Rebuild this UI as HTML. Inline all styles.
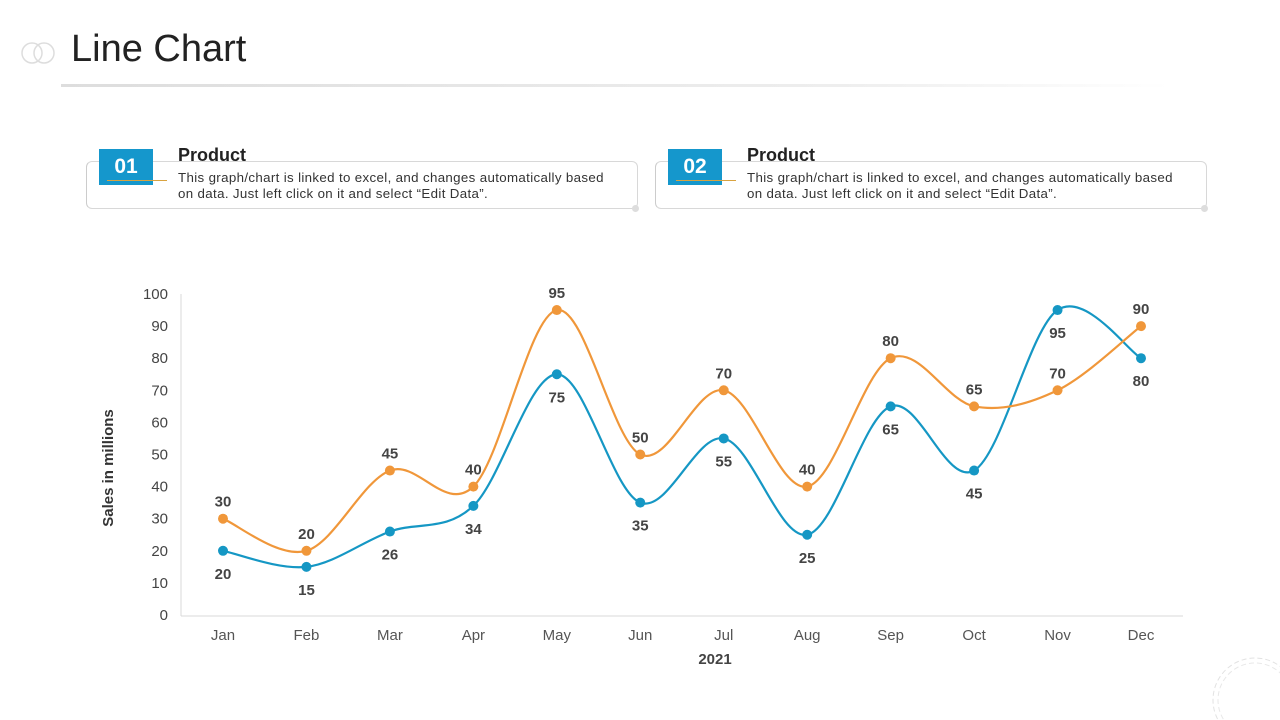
<!DOCTYPE html>
<html><head><meta charset="utf-8"><style>
body{margin:0;width:1280px;height:720px;background:#fff;font-family:"Liberation Sans",sans-serif;overflow:hidden;position:relative}
.abs{position:absolute}
.title{left:71px;top:28px;font-size:38px;color:#222;font-family:"Liberation Sans",sans-serif}
.card{border:1px solid #d8d8d8;border-left:1px solid #ccc;border-radius:6px;height:46px}
.num{background:#1597cc;color:#fff;font-weight:bold;font-size:21px;width:54px;height:36px;line-height:36px;text-align:center}
.ph{font-weight:bold;font-size:18px;color:#222;font-family:"Liberation Sans",sans-serif}
.pt{font-size:13.3px;color:#333;line-height:16px;letter-spacing:0.35px}
</style></head><body>
<svg class="abs" style="left:20px;top:40px" width="40" height="26"><circle cx="12" cy="13" r="10" fill="none" stroke="#ddd" stroke-width="1.5"/><circle cx="24" cy="13" r="10" fill="none" stroke="#ddd" stroke-width="1.5"/></svg>
<div class="abs title">Line Chart</div>
<div class="abs" style="left:61px;top:84px;width:1110px;height:3px;background:linear-gradient(90deg,#ddd,#eee 70%,#fff)"></div>

<div class="abs card" style="left:86px;top:161px;width:550px"></div>
<div class="abs num" style="left:99px;top:149px">01</div>
<div class="abs" style="left:107px;top:180px;width:60px;height:1px;background:#d9a340"></div>
<div class="abs ph" style="left:178px;top:145px">Product</div>
<div class="abs pt" style="left:178px;top:170px">This graph/chart is linked to excel, and changes automatically based<br>on data. Just left click on it and select “Edit Data”.</div>
<div class="abs" style="left:632px;top:205px;width:7px;height:7px;border-radius:50%;background:#ddd"></div>

<div class="abs card" style="left:655px;top:161px;width:550px"></div>
<div class="abs num" style="left:668px;top:149px">02</div>
<div class="abs" style="left:676px;top:180px;width:60px;height:1px;background:#d9a340"></div>
<div class="abs ph" style="left:747px;top:145px">Product</div>
<div class="abs pt" style="left:747px;top:170px">This graph/chart is linked to excel, and changes automatically based<br>on data. Just left click on it and select “Edit Data”.</div>
<div class="abs" style="left:1201px;top:205px;width:7px;height:7px;border-radius:50%;background:#ddd"></div>

<svg class="abs" style="left:1210px;top:655px" width="70" height="65"><circle cx="45" cy="45" r="42" fill="none" stroke="#e2e2e2" stroke-dasharray="5 3"/><circle cx="45" cy="45" r="37" fill="none" stroke="#e8e8e8" stroke-dasharray="5 3"/></svg>

<svg id="chart" class="abs" style="left:0;top:0" width="1280" height="720"></svg>
<script>
const categories=["Jan","Feb","Mar","Apr","May","Jun","Jul","Aug","Sep","Oct","Nov","Dec"];
const series1=[30,20,45,40,95,50,70,40,80,65,70,90];
const series2=[20,15,26,34,75,35,55,25,65,45,95,80];
const yTicks=[0,10,20,30,40,50,60,70,80,90,100];
const svg=document.getElementById('chart');
const NS='http://www.w3.org/2000/svg';
const x=i=>223+i*(1141-223)/(categories.length-1);
const y=v=>615-v*3.21;
function mk(t,a,p){const e=document.createElementNS(NS,t);for(const k in a)e.setAttribute(k,a[k]);(p||svg).appendChild(e);return e;}
let e=mk('line',{x1:181,y1:294,x2:181,y2:616,stroke:'#d9d9d9'});

e=mk('line',{x1:181,y1:616,x2:1183,y2:616,stroke:'#d9d9d9'});

yTicks.forEach(v=>{const t=mk('text',{x:168,y:y(v)+5,'text-anchor':'end','font-size':15,fill:'#444'});t.textContent=v;
});
categories.forEach((c,i)=>{const t=mk('text',{x:x(i),y:640,'text-anchor':'middle','font-size':15,fill:'#555'});t.textContent=c;
});
e=mk('text',{x:715,y:664,'text-anchor':'middle','font-size':15,'font-weight':'bold',fill:'#444'});e.textContent='2021';

e=mk('text',{x:0,y:0,'text-anchor':'middle','font-size':15,'font-weight':'bold',fill:'#333',transform:'translate(113,468) rotate(-90)'});e.textContent='Sales in millions';

function path(vals){const p=vals.map((v,i)=>[x(i),y(v)]);let d='M'+p[0];const k=1/6;
for(let i=0;i<p.length-1;i++){const p0=p[i-1]||p[i],p1=p[i],p2=p[i+1],p3=p[i+2]||p2;
d+=' C'+(p1[0]+(p2[0]-p0[0])*k)+','+(p1[1]+(p2[1]-p0[1])*k)+' '+(p2[0]-(p3[0]-p1[0])*k)+','+(p2[1]-(p3[1]-p1[1])*k)+' '+p2[0]+','+p2[1];}return d;}
function draw(vals,col,name,dy){
const l=mk('path',{d:path(vals),fill:'none',stroke:col,'stroke-width':2.2});

vals.forEach((v,i)=>{const c=mk('circle',{cx:x(i),cy:y(v),r:5,fill:col});

const t=mk('text',{x:x(i),y:y(v)+dy,'text-anchor':'middle','font-size':15,'font-weight':'bold',fill:'#444'});t.textContent=v;
});}
draw(series2,'#1597c4','series-blue',28);
draw(series1,'#f0973a','series-orange',-12);
</script>
</body></html>
